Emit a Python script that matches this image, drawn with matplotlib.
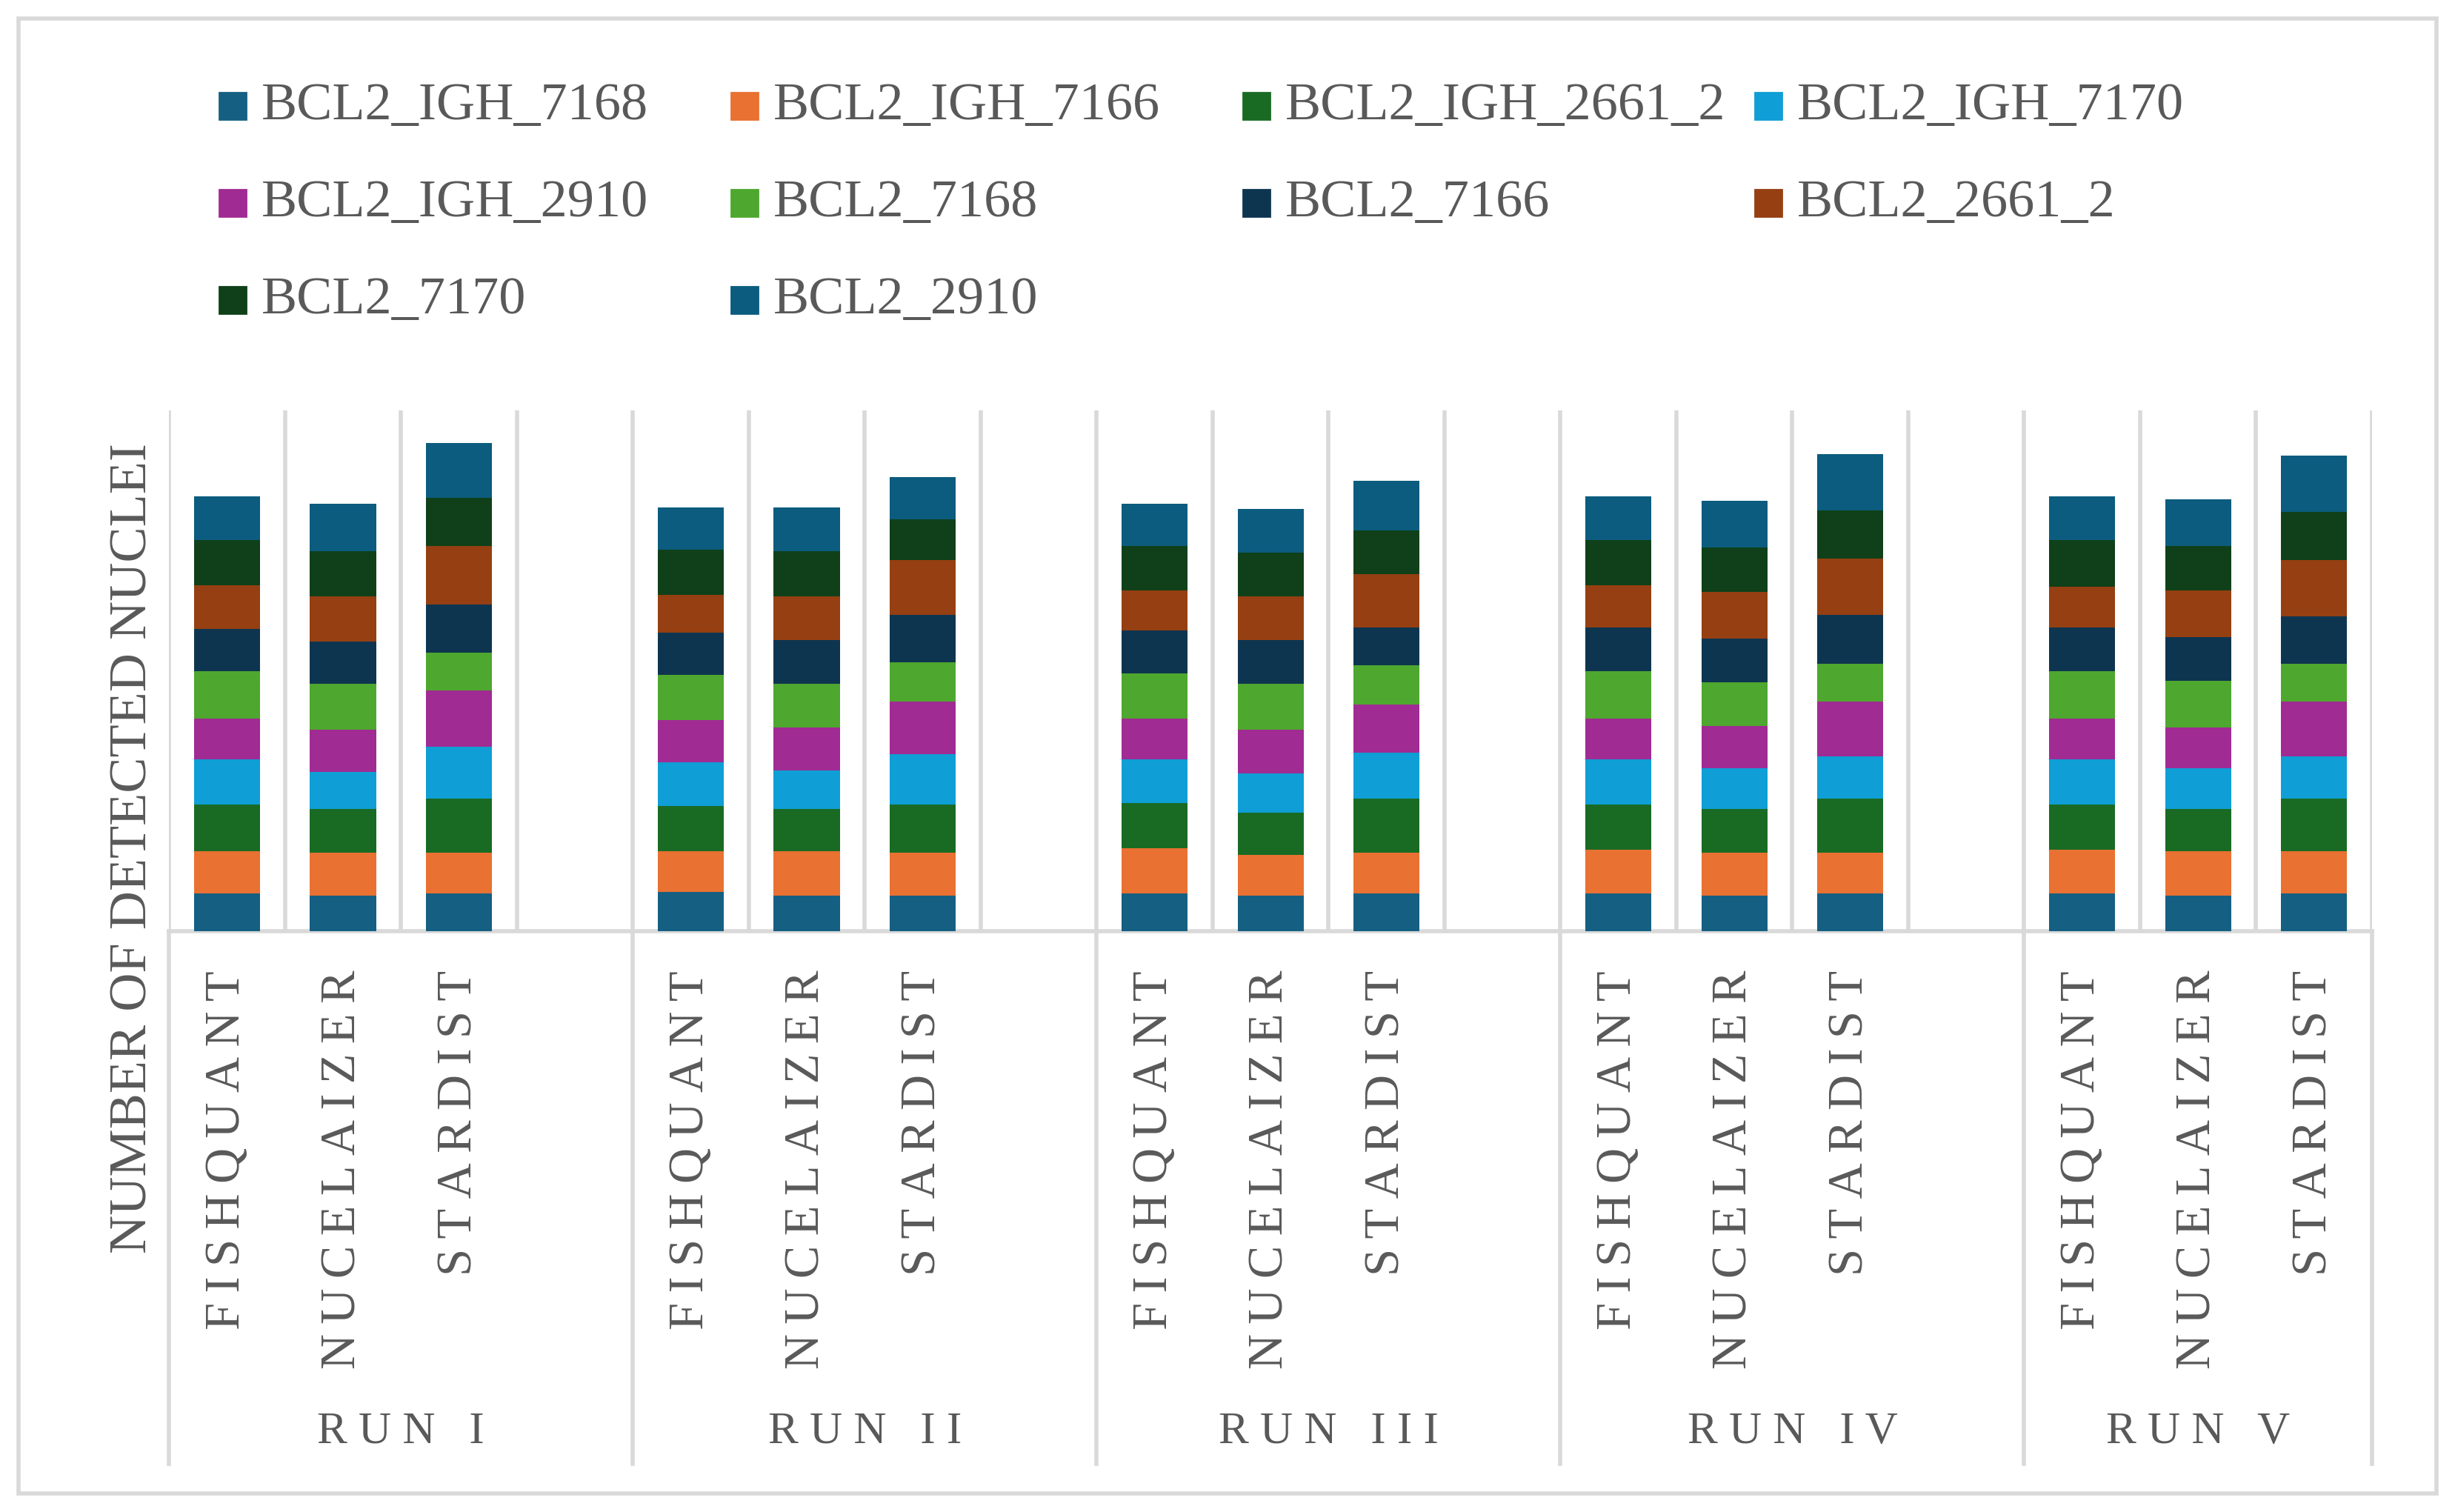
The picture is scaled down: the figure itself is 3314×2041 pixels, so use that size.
import matplotlib.pyplot as plt
from matplotlib.patches import Rectangle
from matplotlib.lines import Line2D
import numpy as np

plt.rcParams['font.family'] = ['Liberation Serif', 'DejaVu Serif']

series = ['BCL2_IGH_7168', 'BCL2_IGH_7166', 'BCL2_IGH_2661_2', 'BCL2_IGH_7170',
          'BCL2_IGH_2910', 'BCL2_7168', 'BCL2_7166', 'BCL2_2661_2', 'BCL2_7170', 'BCL2_2910']
colors = ['#156082', '#E97132', '#196B24', '#0F9ED5', '#A02B93',
          '#4EA72E', '#0E3550', '#953F12', '#0F4019', '#0B5C7E']
runs = ['RUN I', 'RUN II', 'RUN III', 'RUN IV', 'RUN V']
methods = ['FISHQUANT', 'NUCELAIZER', 'STARDIST']

# one row per bar (run x method), one column per series
values = np.array([
    [24, 27, 30, 29, 26, 30, 27, 28, 29, 28],
    [23, 27, 28, 24, 27, 29, 27, 29, 29, 30],
    [24, 26, 35, 33, 36, 24, 31, 37, 31, 35],
    [25, 26, 29, 28, 27, 29, 27, 24, 29, 27],
    [23, 28, 27, 25, 27, 28, 28, 28, 29, 28],
    [23, 27, 31, 32, 34, 25, 30, 35, 26, 27],
    [24, 29, 29, 28, 26, 29, 27, 26, 28, 27],
    [23, 26, 27, 25, 28, 29, 28, 28, 28, 28],
    [24, 26, 35, 29, 31, 25, 24, 34, 28, 32],
    [24, 28, 29, 29, 26, 30, 28, 27, 29, 28],
    [23, 27, 28, 26, 27, 28, 28, 30, 28, 30],
    [24, 26, 35, 27, 35, 24, 31, 36, 31, 36],
    [24, 28, 29, 29, 26, 30, 28, 26, 30, 28],
    [23, 28, 27, 26, 26, 30, 28, 30, 28, 30],
    [24, 27, 34, 27, 35, 24, 30, 36, 31, 36],
])

W, H = 1568, 966  # reference display coords
NS = 19  # category slots: 4 per run, last run has 3
fig = plt.figure(figsize=(16.57, 10.205), dpi=200)
ax = fig.add_axes([108 / W, 1 - 595 / H, (1515 - 108) / W, (595 - 262) / H])

x = np.array([r * 4 + m + 0.5 for r in range(5) for m in range(3)])
bottom = np.zeros(len(x))
for j, name in enumerate(series):
    ax.bar(x, values[:, j], bottom=bottom, width=0.57, color=colors[j], zorder=3)
    bottom += values[:, j]

ax.set_xlim(0, NS)
ax.set_ylim(0, 333)
ax.set_xticks([])
ax.set_yticks([])
for s in ['top', 'right', 'left']:
    ax.spines[s].set_visible(False)
ax.spines['bottom'].set_color('#D9D9D9')
ax.spines['bottom'].set_linewidth(2)
for k in range(NS + 1):
    ax.axvline(k, color='#D9D9D9', lw=2, zorder=1)

def fx(v):
    return (108 + v * (1515 - 108) / NS) / W

def fy(p):
    return 1 - p / H

gray = '#595959'
for k in [0, 4, 8, 12, 16, 19]:
    fig.add_artist(Line2D([fx(k), fx(k)], [fy(595), fy(935)], color='#D9D9D9', lw=2))
for i, xi in enumerate(x):
    fig.text(fx(xi), fy(620), '\u2009'.join(methods[i % 3]), rotation=90, ha='center',
             va='top', fontsize=24, color=gray)
for r, name in enumerate(runs):
    fig.text((fx(r * 4) + fx(min(r * 4 + 4, NS))) / 2, fy(915), ' '.join(name),
             ha='center', va='center', fontsize=22, color=gray)

fig.text(85 / W, fy(542), 'NUMBER OF DETECTED NUCLEI', rotation=90, ha='center',
         va='center', fontsize=26, color=gray)

# legend
for i, name in enumerate(series):
    col, row = i % 4, i // 4
    px = 140 + col * 327
    py = 68 + row * 62
    fig.add_artist(Rectangle((px / W, fy(py + 8)), 17 / W, 17 / H, color=colors[i]))
    fig.text((px + 27) / W, fy(py), name, ha='left', va='center', fontsize=26, color=gray)

fig.add_artist(Rectangle((12 / W, fy(954)), (1556 - 12) / W, (954 - 12) / H,
                         fill=False, edgecolor='#D9D9D9', lw=2))

fig.savefig('out.png', dpi=200, facecolor='white')
